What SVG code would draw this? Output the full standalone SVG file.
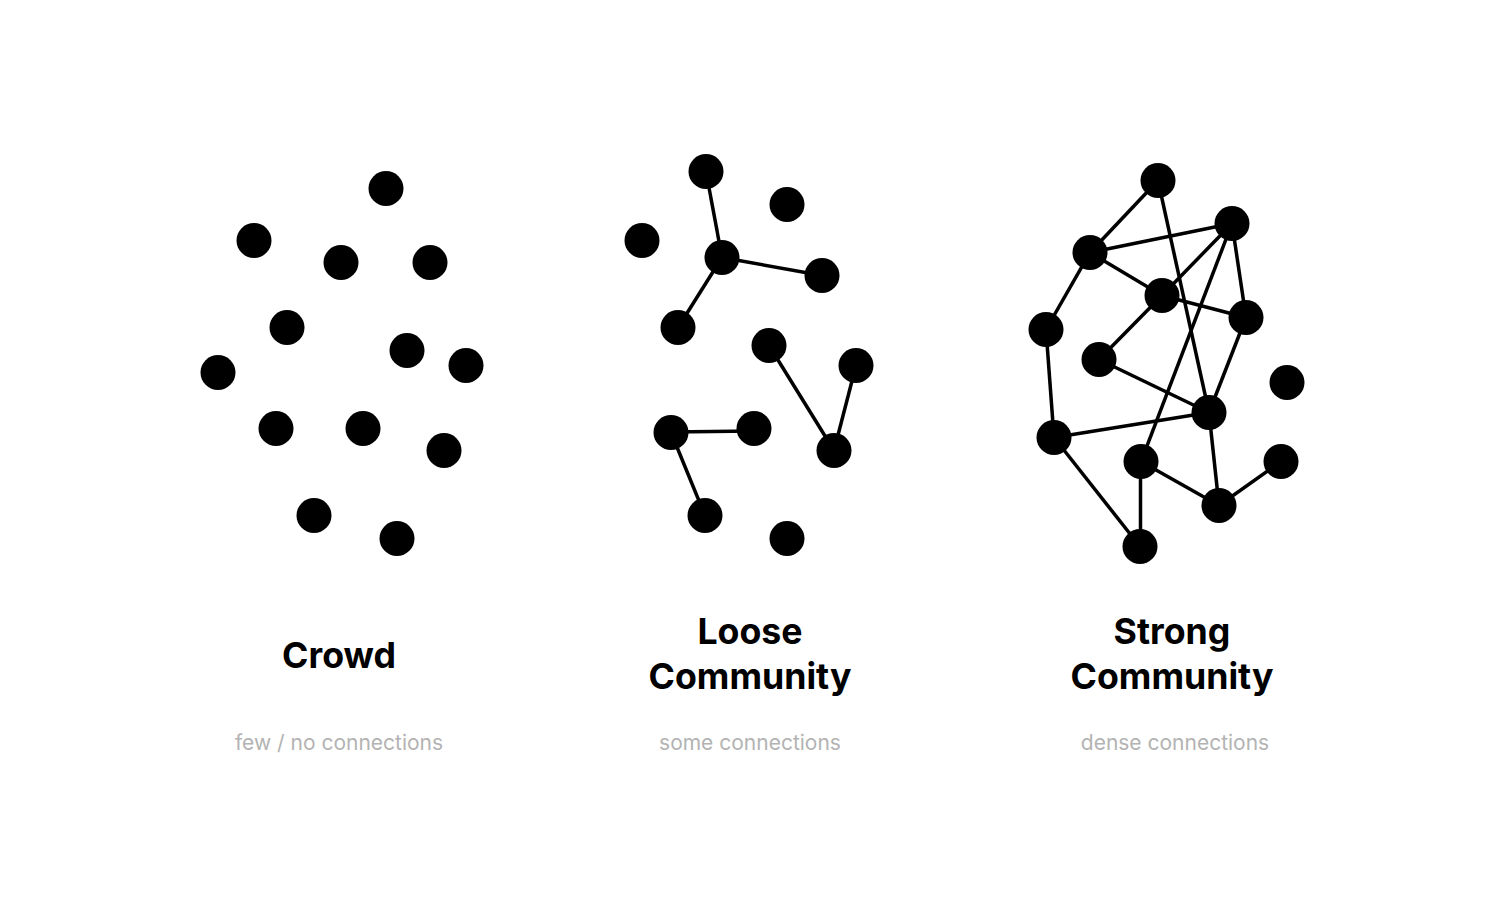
<svg xmlns="http://www.w3.org/2000/svg" width="1500" height="900" viewBox="0 0 1500 900">
<style>
.n{fill:#000}
.e line{stroke:#000;stroke-width:3.5}
.t{font-family:Inter,"Liberation Sans",sans-serif;font-weight:700;font-size:35.7px;fill:#000;text-anchor:middle}
.s{font-family:Inter,"Liberation Sans",sans-serif;font-size:21px;fill:#b3b3b3;text-anchor:middle}
</style>
<rect width="1500" height="900" fill="#fff"/>
<g id="connectors" class="e">
<line x1="706" y1="171.5" x2="722" y2="257.5"/>
<line x1="722" y1="257.5" x2="822" y2="275.5"/>
<line x1="722" y1="257.5" x2="678" y2="327.5"/>
<line x1="769" y1="345.5" x2="834" y2="450.5"/>
<line x1="856" y1="365.5" x2="834" y2="450.5"/>
<line x1="671" y1="432" x2="754" y2="431"/>
<line x1="671" y1="432.5" x2="705" y2="515.5"/>
<line x1="1158" y1="180.5" x2="1090" y2="252.5"/>
<line x1="1158" y1="180.5" x2="1209" y2="412.5"/>
<line x1="1090" y1="252.5" x2="1232" y2="223.5"/>
<line x1="1090" y1="252.5" x2="1162" y2="295.5"/>
<line x1="1090" y1="252.5" x2="1046" y2="329.5"/>
<line x1="1232" y1="223.5" x2="1162" y2="295.5"/>
<line x1="1232" y1="223.5" x2="1246" y2="317.5"/>
<line x1="1232" y1="223.5" x2="1141" y2="461.5"/>
<line x1="1162" y1="295.5" x2="1246" y2="317.5"/>
<line x1="1162" y1="295.5" x2="1099" y2="359.5"/>
<line x1="1246" y1="317.5" x2="1209" y2="412.5"/>
<line x1="1099" y1="359.5" x2="1209" y2="412.5"/>
<line x1="1046" y1="329.5" x2="1054" y2="437.5"/>
<line x1="1054" y1="437.5" x2="1209" y2="412.5"/>
<line x1="1054" y1="437.5" x2="1140" y2="546.5"/>
<line x1="1140.5" y1="461.5" x2="1140.5" y2="546.5"/>
<line x1="1141" y1="461.5" x2="1219" y2="505.5"/>
<line x1="1209" y1="412.5" x2="1219" y2="505.5"/>
<line x1="1219" y1="505.5" x2="1281" y2="461.5"/>
</g>
<g id="crowd">
<circle class="n" cx="386" cy="188.5" r="17.5"/>
<circle class="n" cx="254" cy="240.5" r="17.5"/>
<circle class="n" cx="341" cy="262.5" r="17.5"/>
<circle class="n" cx="430" cy="262.5" r="17.5"/>
<circle class="n" cx="287" cy="327.5" r="17.5"/>
<circle class="n" cx="407" cy="350.5" r="17.5"/>
<circle class="n" cx="466" cy="365.5" r="17.5"/>
<circle class="n" cx="218" cy="372.5" r="17.5"/>
<circle class="n" cx="276" cy="428.5" r="17.5"/>
<circle class="n" cx="363" cy="428.5" r="17.5"/>
<circle class="n" cx="444" cy="450.5" r="17.5"/>
<circle class="n" cx="314" cy="515.5" r="17.5"/>
<circle class="n" cx="397" cy="538.5" r="17.5"/>
<text class="t" x="339" y="668">Crowd</text>
<text class="s" x="339" y="750">few / no connections</text>
</g>
<g id="loose">
<circle class="n" cx="706" cy="171.5" r="17.5"/>
<circle class="n" cx="787" cy="204.5" r="17.5"/>
<circle class="n" cx="642" cy="240.5" r="17.5"/>
<circle class="n" cx="722" cy="257.5" r="17.5"/>
<circle class="n" cx="822" cy="275.5" r="17.5"/>
<circle class="n" cx="678" cy="327.5" r="17.5"/>
<circle class="n" cx="769" cy="345.5" r="17.5"/>
<circle class="n" cx="856" cy="365.5" r="17.5"/>
<circle class="n" cx="671" cy="432.5" r="17.5"/>
<circle class="n" cx="754" cy="428.5" r="17.5"/>
<circle class="n" cx="834" cy="450.5" r="17.5"/>
<circle class="n" cx="705" cy="515.5" r="17.5"/>
<circle class="n" cx="787" cy="538.5" r="17.5"/>
<text class="t" x="750" y="644">Loose</text>
<text class="t" x="750" y="689">Community</text>
<text class="s" x="750" y="750">some connections</text>
</g>
<g id="strong">
<circle class="n" cx="1158" cy="180.5" r="17.5"/>
<circle class="n" cx="1232" cy="223.5" r="17.5"/>
<circle class="n" cx="1090" cy="252.5" r="17.5"/>
<circle class="n" cx="1162" cy="295.5" r="17.5"/>
<circle class="n" cx="1246" cy="317.5" r="17.5"/>
<circle class="n" cx="1046" cy="329.5" r="17.5"/>
<circle class="n" cx="1099" cy="359.5" r="17.5"/>
<circle class="n" cx="1287" cy="382.5" r="17.5"/>
<circle class="n" cx="1209" cy="412.5" r="17.5"/>
<circle class="n" cx="1054" cy="437.5" r="17.5"/>
<circle class="n" cx="1141" cy="461.5" r="17.5"/>
<circle class="n" cx="1281" cy="461.5" r="17.5"/>
<circle class="n" cx="1219" cy="505.5" r="17.5"/>
<circle class="n" cx="1140" cy="546.5" r="17.5"/>
<text class="t" x="1172" y="644">Strong</text>
<text class="t" x="1172" y="689">Community</text>
<text class="s" x="1175" y="750">dense connections</text>
</g>
</svg>
